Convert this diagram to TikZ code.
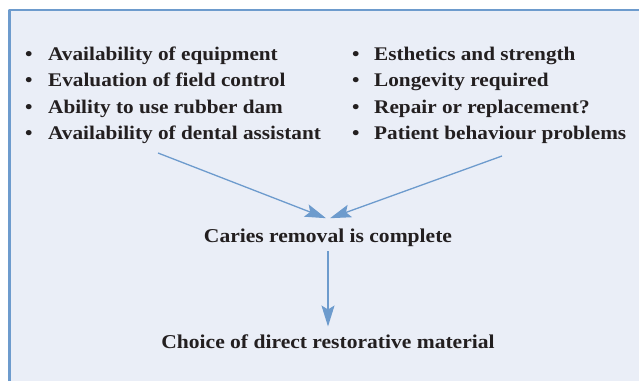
\documentclass[tikz,border=0pt]{standalone}
\usepackage{fontspec}
\setmainfont[FakeStretch=1.1]{Liberation Serif}
\usetikzlibrary{arrows.meta}
\definecolor{boxfill}{HTML}{EAEEF7}
\definecolor{boxline}{HTML}{6D9BCD}
\definecolor{ink}{HTML}{231F20}
\tikzset{
	item/.style={anchor=base west,inner sep=0pt,text=ink,font=\bfseries\fontsize{19.3}{23}\selectfont},
	step label/.style={inner sep=0pt,text=ink},
	flow/.style={->,boxline,line width=1.3pt}
}
\begin{document}
\begin{tikzpicture}[x=1pt,y=-1pt,line join=round,>={Stealth[length=21pt,width=13pt,inset=4pt]},font=\bfseries\fontsize{19.6}{23}\selectfont]
	\useasboundingbox (0,0) rectangle (639,381);
	%%Khung
	\fill[boxfill] (9.5,10) rectangle (639,381);
	\draw[boxline,line width=2.5pt] (9.5,381)--(9.5,10)--(639,10);
	%%Hai cot
	\foreach \t [count=\i] in {Availability of equipment,Evaluation of field control,Ability to use rubber dam,Availability of dental assistant}{
			\node[item] (l\i) at (25,{60+26.5*(\i-1)}) {\makebox[23pt][l]{\textbullet}\t};
		}
	\foreach \t [count=\i] in {Esthetics and strength,Longevity required,Repair or replacement?,Patient behaviour problems}{
			\node[item] (r\i) at (352,{60+26.5*(\i-1)}) {\makebox[22pt][l]{\textbullet}\t};
		}
	\coordinate (ls) at (158,153);
	\coordinate (rs) at (502,156);
	%%Cac buoc
	\node[step label,anchor=base] (caries) at (328,242) {Caries removal is complete};
	\node[step label,anchor=base] (choice) at (328,348.5) {Choice of direct restorative material};
	%%Mui ten
	\draw[flow] (ls)--([xshift=-2pt,yshift=10pt]caries.north);
	\draw[flow] (rs)--([xshift=2pt,yshift=10pt]caries.north);
	\draw[flow] ([yshift=-5pt]caries.south)--([yshift=8pt]choice.north);
\end{tikzpicture}
\end{document}
